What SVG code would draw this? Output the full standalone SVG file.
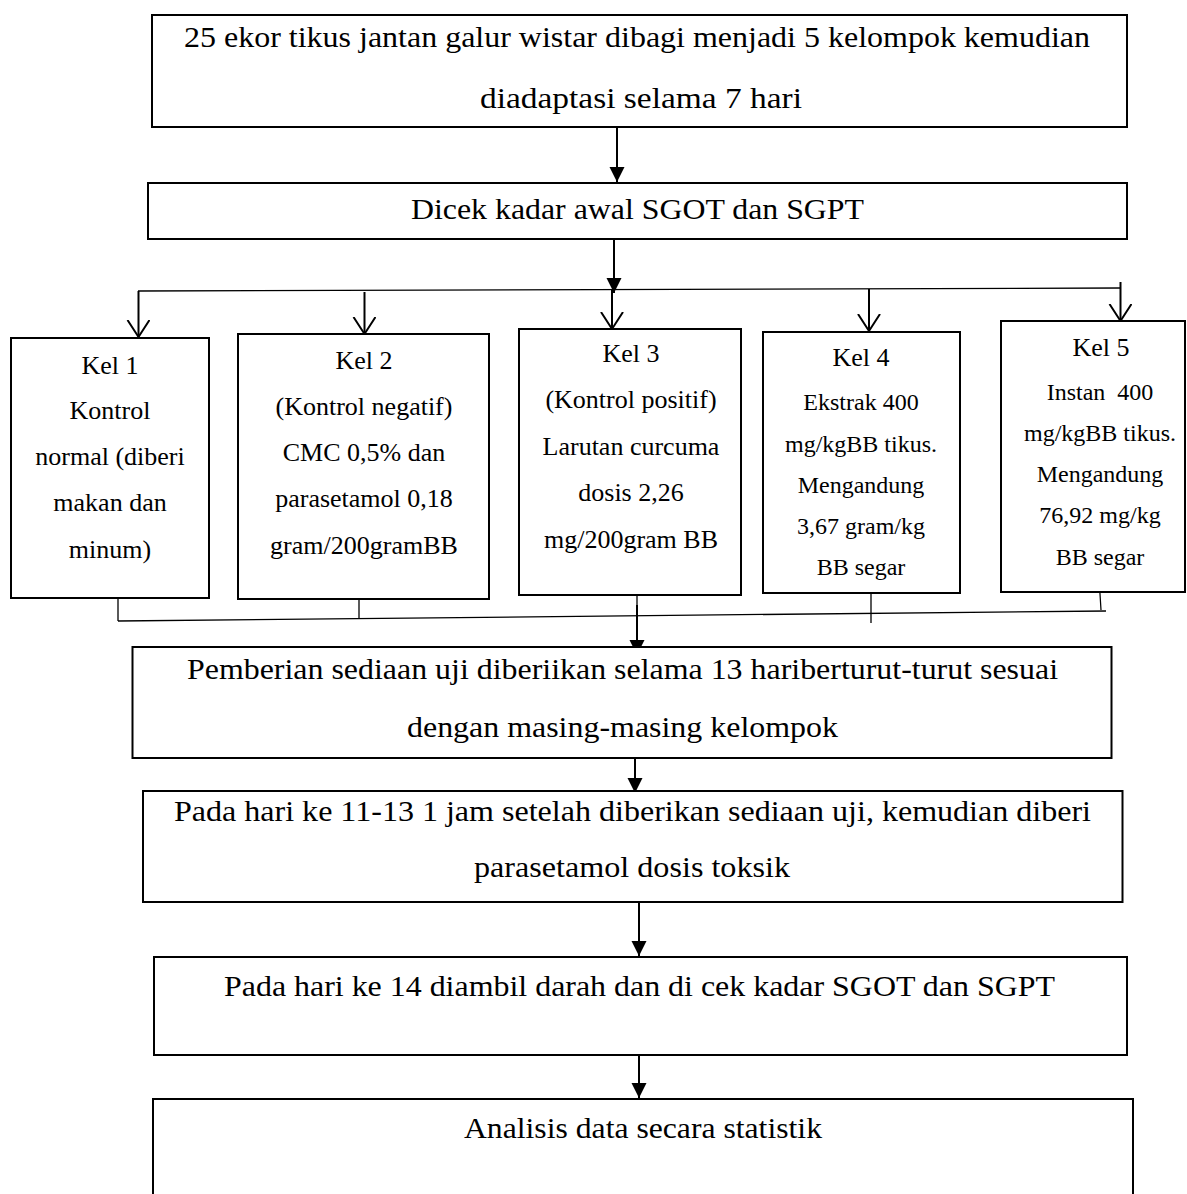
<svg xmlns="http://www.w3.org/2000/svg" width="1187" height="1194" viewBox="0 0 1187 1194">
<style>
  .box { fill: #fff; stroke: #000; stroke-width: 2; }
  .t { font-family: "Liberation Serif", "Times New Roman", serif; font-size: 30px; fill: #000; }
  .k { font-family: "Liberation Serif", "Times New Roman", serif; font-size: 26px; fill: #000; text-anchor: middle; }
  .ks { font-family: "Liberation Serif", "Times New Roman", serif; font-size: 24px; fill: #000; text-anchor: middle; }
  .thick { stroke: #000; stroke-width: 2; fill: none; }
  .thin { stroke: #000; stroke-width: 1.3; fill: none; }
</style>
<defs>
  <marker id="fill" markerUnits="userSpaceOnUse" markerWidth="16" markerHeight="16" refX="15" refY="7.5" orient="auto" viewBox="0 0 16 16">
    <path d="M0,0 L15,7.5 L0,15 z" fill="#000"/>
  </marker>
  <marker id="open" markerUnits="userSpaceOnUse" markerWidth="20" markerHeight="26" refX="17" refY="11.5" orient="auto" viewBox="0 0 20 26">
    <path d="M0,0.5 L17,11.5 L0,22.5" fill="none" stroke="#000" stroke-width="2"/>
  </marker>
</defs>

<g id="connectors">
  <line class="thick" x1="617" y1="127" x2="617" y2="182" marker-end="url(#fill)"/>
  <line class="thick" x1="614" y1="239" x2="614" y2="293" marker-end="url(#fill)"/>
  <line class="thin" x1="138" y1="291" x2="1121" y2="288" stroke-width="1.6"/>
  <line class="thick" x1="138.5" y1="291" x2="138.5" y2="337" marker-end="url(#open)"/>
  <line class="thick" x1="364.5" y1="292" x2="364.5" y2="334" marker-end="url(#open)"/>
  <line class="thick" x1="612" y1="290" x2="612" y2="329" marker-end="url(#open)"/>
  <line class="thick" x1="869" y1="289" x2="869" y2="331" marker-end="url(#open)"/>
  <line class="thick" x1="1120.5" y1="282" x2="1120.5" y2="321" marker-end="url(#open)"/>
  <line class="thin" x1="118" y1="588" x2="118" y2="621"/>
  <line class="thin" x1="359" y1="585" x2="359" y2="619"/>
  <line class="thin" x1="637" y1="585" x2="637" y2="610"/>
  <line class="thin" x1="871" y1="573" x2="871" y2="623"/>
  <line class="thin" x1="1099" y1="578" x2="1101" y2="610"/>
  <line class="thin" x1="118" y1="621" x2="1106" y2="611"/>
  <line class="thick" x1="637" y1="605" x2="637" y2="655" marker-end="url(#fill)"/>
  <line class="thick" x1="635" y1="743" x2="635" y2="793" marker-end="url(#fill)"/>
  <line class="thick" x1="639" y1="902" x2="639" y2="956" marker-end="url(#fill)"/>
  <line class="thick" x1="639" y1="1052" x2="639" y2="1098" marker-end="url(#fill)"/>
</g>

<g id="n-start">
  <rect class="box" x="152" y="15" width="975" height="112"/>
  <text class="t" x="184" y="47" textLength="906" lengthAdjust="spacingAndGlyphs">25 ekor tikus jantan galur wistar dibagi menjadi 5 kelompok kemudian</text>
  <text class="t" x="480" y="108" textLength="322" lengthAdjust="spacingAndGlyphs">diadaptasi selama 7 hari</text>
</g>

<g id="n-cek-awal">
  <rect class="box" x="148" y="183" width="979" height="56"/>
  <text class="t" x="411" y="219" textLength="453" lengthAdjust="spacingAndGlyphs">Dicek kadar awal SGOT dan SGPT</text>
</g>

<g id="n-kel1">
  <rect class="box" x="11" y="338" width="198" height="260"/>
  <text class="k" x="110" y="374">Kel 1</text>
  <text class="k" x="110" y="419">Kontrol</text>
  <text class="k" x="110" y="465">normal (diberi</text>
  <text class="k" x="110" y="511">makan dan</text>
  <text class="k" x="110" y="558">minum)</text>
</g>

<g id="n-kel2">
  <rect class="box" x="238" y="334" width="251" height="265"/>
  <text class="k" x="364" y="369">Kel 2</text>
  <text class="k" x="364" y="415">(Kontrol negatif)</text>
  <text class="k" x="364" y="461">CMC 0,5% dan</text>
  <text class="k" x="364" y="507">parasetamol 0,18</text>
  <text class="k" x="364" y="554">gram/200gramBB</text>
</g>

<g id="n-kel3">
  <rect class="box" x="519" y="329" width="222" height="266"/>
  <text class="k" x="631" y="362">Kel 3</text>
  <text class="k" x="631" y="408">(Kontrol positif)</text>
  <text class="k" x="631" y="455">Larutan curcuma</text>
  <text class="k" x="631" y="501">dosis 2,26</text>
  <text class="k" x="631" y="548">mg/200gram BB</text>
</g>

<g id="n-kel4">
  <rect class="box" x="763" y="332" width="197" height="261"/>
  <text class="k" x="861" y="366">Kel 4</text>
  <text class="ks" x="861" y="410">Ekstrak 400</text>
  <text class="ks" x="861" y="452">mg/kgBB tikus.</text>
  <text class="ks" x="861" y="493">Mengandung</text>
  <text class="ks" x="861" y="534">3,67 gram/kg</text>
  <text class="ks" x="861" y="575">BB segar</text>
</g>

<g id="n-kel5">
  <rect class="box" x="1001" y="321" width="184" height="271"/>
  <text class="k" x="1101" y="356">Kel 5</text>
  <text class="ks" x="1100" y="400" style="white-space:pre">Instan  400</text>
  <text class="ks" x="1100" y="441">mg/kgBB tikus.</text>
  <text class="ks" x="1100" y="482">Mengandung</text>
  <text class="ks" x="1100" y="523">76,92 mg/kg</text>
  <text class="ks" x="1100" y="565">BB segar</text>
</g>

<g id="n-pemberian">
  <rect class="box" x="132.5" y="647" width="979" height="111"/>
  <text class="t" x="187" y="679" textLength="871" lengthAdjust="spacingAndGlyphs">Pemberian sediaan uji diberiikan selama 13 hariberturut-turut sesuai</text>
  <text class="t" x="407" y="737" textLength="431" lengthAdjust="spacingAndGlyphs">dengan masing-masing kelompok</text>
</g>

<g id="n-hari11">
  <rect class="box" x="143" y="791" width="979.5" height="111"/>
  <text class="t" x="174" y="821" textLength="917" lengthAdjust="spacingAndGlyphs">Pada hari ke 11-13 1 jam setelah diberikan sediaan uji, kemudian diberi</text>
  <text class="t" x="474" y="877" textLength="316" lengthAdjust="spacingAndGlyphs">parasetamol dosis toksik</text>
</g>

<g id="n-hari14">
  <rect class="box" x="154" y="957" width="973" height="98"/>
  <text class="t" x="224" y="996" textLength="831" lengthAdjust="spacingAndGlyphs">Pada hari ke 14 diambil darah dan di cek kadar SGOT dan SGPT</text>
</g>

<g id="n-analisis">
  <rect class="box" x="153" y="1099" width="980" height="120"/>
  <text class="t" x="464" y="1138" textLength="358" lengthAdjust="spacingAndGlyphs">Analisis data secara statistik</text>
</g>
</svg>
